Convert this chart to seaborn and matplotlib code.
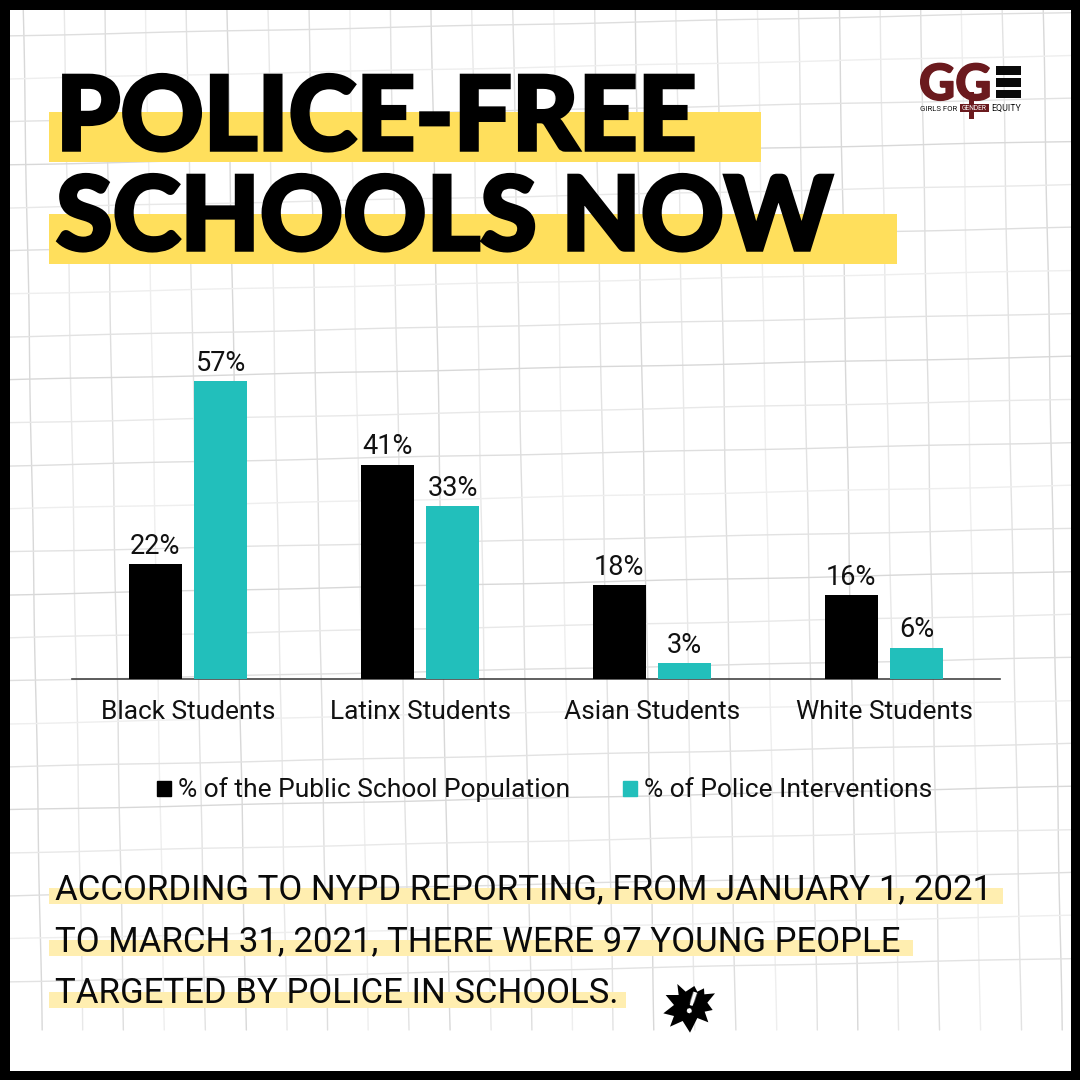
import matplotlib
matplotlib.use("Agg")
import matplotlib.pyplot as plt
import matplotlib.patheffects as pe
from matplotlib.patches import Rectangle, Polygon
import numpy as np
import pandas as pd
import seaborn as sns

groups = ["Black Students", "Latinx Students", "Asian Students", "White Students"]
population = [22, 41, 18, 16]
interventions = [57, 33, 3, 6]
series_names = ["% of the Public School Population", "% of Police Interventions"]
title_lines = ["POLICE-FREE", "SCHOOLS NOW"]
body_lines = [
    "ACCORDING TO NYPD REPORTING, FROM JANUARY 1, 2021",
    "TO MARCH 31, 2021, THERE WERE 97 YOUNG PEOPLE",
    "TARGETED BY POLICE IN SCHOOLS.",
]

BLACK = "#000000"
TEAL = "#22bfbb"
YELLOW = "#ffdf5c"
PALE = "#ffeeb0"
MAROON = "#6b1a1e"
GRID_SHADES = ["#d8d8d8", "#e8e8e8", "#dedede", "#eeeeee", "#e2e2e2"]

sns.set_theme(style="white")
plt.rcParams["font.family"] = ["Roboto", "DejaVu Sans"]

df = pd.DataFrame({
    "group": groups * 2,
    "value": population + interventions,
    "series": [series_names[0]] * 4 + [series_names[1]] * 4,
})

fig = plt.figure(figsize=(10.8, 10.8), dpi=100, facecolor="white")

# page layer in pixel coords
bg = fig.add_axes([0, 0, 1, 1])
bg.set_xlim(0, 1080)
bg.set_ylim(1080, 0)
bg.axis("off")

# hand drawn looking grid paper, slightly tilted and wobbly
ys = np.linspace(10, 1030, 60)
for n in range(26):
    xs = 23 + 40.8 * n + 0.0185 * ys + 0.3 * np.sin(ys / 37 + n)
    bg.plot(xs, ys, color=GRID_SHADES[n % 5], lw=1.0, zorder=1)
xs = np.linspace(10, 1071, 60)
for n in range(23):
    line_y = 36 + 43 * n - 0.022 * xs + 0.3 * np.sin(xs / 41 + n * 2)
    bg.plot(xs, line_y, color=GRID_SHADES[(n + 2) % 5], lw=1.0, zorder=1)

# highlight strips behind the headline
bg.add_patch(Rectangle((49, 112), 712, 50, color=YELLOW, lw=0, zorder=2))
bg.add_patch(Rectangle((49, 214), 848, 50, color=YELLOW, lw=0, zorder=2))
for y, line in zip([150, 250], title_lines):
    bg.text(56, y, line, fontsize=74, fontweight="black", color=BLACK,
            family=["Lato", "DejaVu Sans"], va="baseline", ha="left", zorder=3,
            path_effects=[pe.withStroke(linewidth=2.5, foreground=BLACK, joinstyle="miter")])

# body text
for y, w, line in zip([888, 940, 992], [954, 864, 577], body_lines):
    bg.add_patch(Rectangle((49, y), w, 16, color=PALE, lw=0, zorder=2))
    bg.text(55, y + 11, line, fontsize=25, color="#0a0a0a", va="baseline", ha="left", zorder=3)

# logo
bg.add_patch(Rectangle((969, 92), 5, 27, color=MAROON, lw=0, zorder=3))
bg.add_patch(Rectangle((960, 104), 29, 8, color=MAROON, lw=0, zorder=3))
bg.text(919, 100, "GG", fontsize=36, fontweight="black", color=MAROON, va="baseline",
        ha="left", family=["Lato", "DejaVu Sans"], zorder=3,
        path_effects=[pe.withStroke(linewidth=1, foreground=MAROON)])
for y0, y1 in [(66, 75), (78, 87), (90, 98)]:
    bg.add_patch(Rectangle((996, y0), 25, y1 - y0, color="#0a0a0a", lw=0, zorder=3))
bg.text(920, 111, "GIRLS FOR", fontsize=5.6, color="#111111", va="baseline", ha="left", zorder=3)
bg.text(974.5, 110.5, "GENDER", fontsize=4.8, color="white", va="baseline", ha="center", zorder=4)
bg.text(991, 111, "EQUITY", fontsize=6.4, color="#111111", va="baseline", ha="left", zorder=3)

burst = [(232, 72), (257, 95), (283, 78), (292, 95), (312, 85), (313, 103), (345, 100),
         (322, 128), (338, 150), (314, 155), (325, 187), (292, 174), (270, 218), (248, 183),
         (210, 200), (222, 168), (190, 160), (222, 135), (197, 105), (236, 105)]
bg.add_patch(Polygon([(600 + px / 3, 960 + py / 3) for px, py in burst], closed=True,
                     color=BLACK, lw=0, zorder=3))
bg.text(690, 1005, "!", fontsize=22, fontweight="black", color="white", va="center",
        ha="center", rotation=-18, family=["Lato", "DejaVu Sans"], zorder=4)

# frame
for rect in [(0, 0, 1080, 10), (0, 1071, 1080, 9), (0, 0, 10, 1080), (1071, 0, 9, 1080)]:
    bg.add_patch(Rectangle(rect[:2], rect[2], rect[3], color=BLACK, lw=0, zorder=5))

# chart
ax = fig.add_axes([72 / 1080, 1 - 679 / 1080, 928 / 1080, 340 / 1080])
ax.patch.set_alpha(0)
sns.barplot(data=df, x="group", y="value", hue="series", palette=[BLACK, TEAL], saturation=1,
            width=0.565, gap=0.185, linewidth=0, legend=False, ax=ax, zorder=3)
ax.set_xlim(-0.5, 3.5)
ax.set_ylim(0, 340 / 5.23)
for c in ax.containers:
    ax.bar_label(c, fmt="%d%%", fontsize=19.5, color="#111111", padding=3)
sns.despine(ax=ax, left=True)
ax.spines["bottom"].set_color("#444444")
ax.spines["bottom"].set_linewidth(1.2)
ax.set_xlabel("")
ax.set_ylabel("")
ax.set_yticks([])
ax.tick_params(axis="x", length=0, pad=15, labelsize=18.9, labelcolor="#111111")

# legend
handles = [Rectangle((0, 0), 1, 1, color=BLACK), Rectangle((0, 0), 1, 1, color=TEAL)]
fig.legend(handles, series_names, loc="center", bbox_to_anchor=(545 / 1080, 1 - 790 / 1080),
           ncol=2, frameon=False, fontsize=19, handlelength=0.5, handleheight=0.5,
           handletextpad=0.3, columnspacing=2.0, labelcolor="#111111")

fig.savefig("out.png", dpi=100)
